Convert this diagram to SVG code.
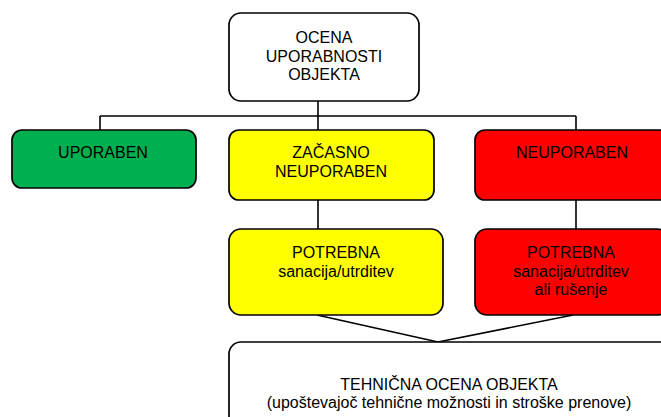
<svg xmlns="http://www.w3.org/2000/svg" width="661" height="417" viewBox="0 0 661 417">
<style>
.b{stroke:#000;stroke-width:1.7}
.t{font-family:"Liberation Sans",Arial,sans-serif;font-size:16px;fill:#000;text-anchor:middle}
.c{fill:none;stroke:#000;stroke-width:1.6}
</style>
<rect width="661" height="417" fill="#fff"/>
<g id="connectors">
<path class="c" d="M318,101 V116 M100,116 H576 M100,116 V130 M318,116 V130 M576,116 V130 M318,200 V229 M576,200 V229 M317,315 L438,342 M573,315 L438,342"/>
</g>
<g id="n_ocena">
<rect class="b" x="229" y="13" width="190" height="88" rx="12" fill="#fff"/>
<text class="t" x="324" y="43">OCENA</text>
<text class="t" x="324" y="62">UPORABNOSTI</text>
<text class="t" x="324" y="80">OBJEKTA</text>
</g>
<g id="n_uporaben">
<rect class="b" x="12" y="130" width="184" height="58" rx="10" fill="#00B050"/>
<text class="t" x="103" y="158">UPORABEN</text>
</g>
<g id="n_zacasno">
<rect class="b" x="229" y="130" width="205" height="70" rx="10" fill="#FFFF00"/>
<text class="t" x="331" y="158">ZAČASNO</text>
<text class="t" x="331" y="177">NEUPORABEN</text>
</g>
<g id="n_neuporaben">
<rect class="b" x="475" y="130" width="194" height="70" rx="10" fill="#FF0000"/>
<text class="t" x="572" y="158">NEUPORABEN</text>
</g>
<g id="n_potrebna1">
<rect class="b" x="229" y="229" width="214" height="86" rx="12" fill="#FFFF00"/>
<text class="t" x="336" y="258">POTREBNA</text>
<text class="t" x="336" y="277">sanacija/utrditev</text>
</g>
<g id="n_potrebna2">
<rect class="b" x="475" y="229" width="194" height="86" rx="12" fill="#FF0000"/>
<text class="t" x="571" y="258">POTREBNA</text>
<text class="t" x="571" y="277">sanacija/utrditev</text>
<text class="t" x="571" y="295">ali rušenje</text>
</g>
<g id="n_tehnicna">
<rect class="b" x="229" y="342" width="445" height="90" rx="12" fill="#fff"/>
<text class="t" x="449" y="390">TEHNIČNA OCENA OBJEKTA</text>
<text class="t" x="449" y="408">(upoštevajoč tehnične možnosti in stroške prenove)</text>
</g>
</svg>
